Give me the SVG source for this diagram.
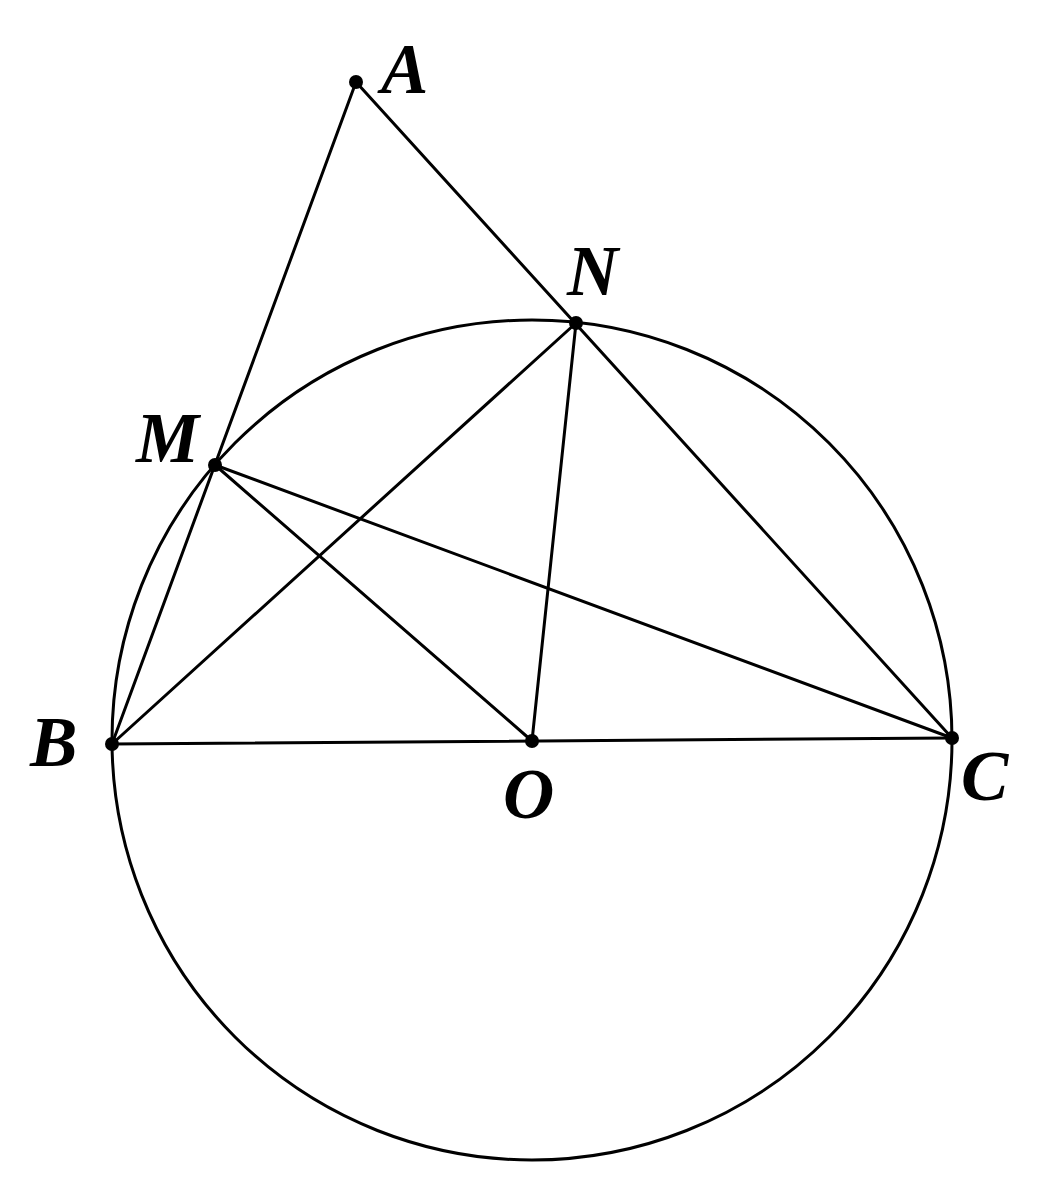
<svg xmlns="http://www.w3.org/2000/svg" width="1048" height="1192" viewBox="0 0 1048 1192">
<style>
.l{stroke:#000;stroke-width:3;fill:none;stroke-linecap:round}
.d{fill:#000}
.t{font-family:"Liberation Serif",serif;font-style:italic;font-weight:bold;font-size:71px;fill:#000}
</style>
<rect width="1048" height="1192" fill="#fff"/>
<g id="connectors">
<circle class="l" cx="532" cy="740" r="420"/>
<line class="l" x1="356" y1="82" x2="112" y2="744"/>
<line class="l" x1="356" y1="82" x2="952" y2="738"/>
<line class="l" x1="112" y1="744" x2="952" y2="738"/>
<line class="l" x1="112" y1="744" x2="576" y2="323"/>
<line class="l" x1="215" y1="465" x2="532" y2="741"/>
<line class="l" x1="215" y1="465" x2="952" y2="738"/>
<line class="l" x1="576" y1="323" x2="532" y2="741"/>
</g>
<g id="A"><circle class="d" cx="356" cy="82" r="7"/><text class="t" x="381" y="93">A</text></g>
<g id="N"><circle class="d" cx="576" cy="323" r="7"/><text class="t" x="567" y="295">N</text></g>
<g id="M"><circle class="d" cx="215" cy="465" r="7"/><text class="t" x="136" y="462">M</text></g>
<g id="B"><circle class="d" cx="112" cy="744" r="7"/><text class="t" x="30" y="766">B</text></g>
<g id="O"><circle class="d" cx="532" cy="741" r="7"/><text class="t" x="503" y="818">O</text></g>
<g id="C"><circle class="d" cx="952" cy="738" r="7"/><text class="t" x="961" y="800">C</text></g>
</svg>
